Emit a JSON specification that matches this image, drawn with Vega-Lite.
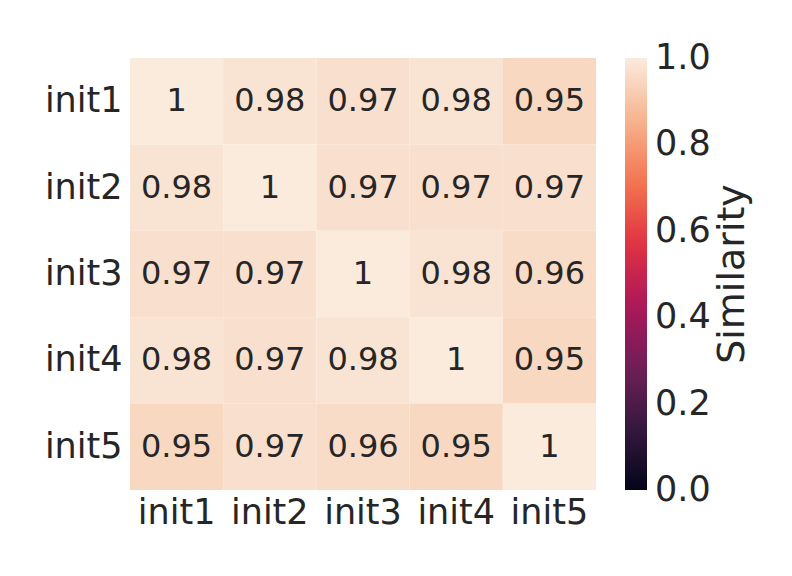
{
  "$schema": "https://vega.github.io/schema/vega-lite/v6.json",
  "width": 466,
  "height": 432,
  "padding": {"left": 44, "top": 58, "right": 5, "bottom": 5},
  "background": "white",
  "config": {
    "font": "DejaVu Sans",
    "view": {"stroke": null},
    "axis": {"domain": false, "ticks": false, "grid": false, "labelColor": "#262626", "labelFont": "DejaVu Sans", "labelFontSize": 35}
  },
  "data": {
    "values": [
      {"row": "init1", "col": "init1", "v": 1.0},
      {"row": "init1", "col": "init2", "v": 0.98},
      {"row": "init1", "col": "init3", "v": 0.97},
      {"row": "init1", "col": "init4", "v": 0.98},
      {"row": "init1", "col": "init5", "v": 0.95},
      {"row": "init2", "col": "init1", "v": 0.98},
      {"row": "init2", "col": "init2", "v": 1.0},
      {"row": "init2", "col": "init3", "v": 0.97},
      {"row": "init2", "col": "init4", "v": 0.97},
      {"row": "init2", "col": "init5", "v": 0.97},
      {"row": "init3", "col": "init1", "v": 0.97},
      {"row": "init3", "col": "init2", "v": 0.97},
      {"row": "init3", "col": "init3", "v": 1.0},
      {"row": "init3", "col": "init4", "v": 0.98},
      {"row": "init3", "col": "init5", "v": 0.96},
      {"row": "init4", "col": "init1", "v": 0.98},
      {"row": "init4", "col": "init2", "v": 0.97},
      {"row": "init4", "col": "init3", "v": 0.98},
      {"row": "init4", "col": "init4", "v": 1.0},
      {"row": "init4", "col": "init5", "v": 0.95},
      {"row": "init5", "col": "init1", "v": 0.95},
      {"row": "init5", "col": "init2", "v": 0.97},
      {"row": "init5", "col": "init3", "v": 0.96},
      {"row": "init5", "col": "init4", "v": 0.95},
      {"row": "init5", "col": "init5", "v": 1.0}
    ]
  },
  "encoding": {
    "x": {"field": "col", "type": "nominal", "title": null, "sort": ["init1","init2","init3","init4","init5"],
          "scale": {"paddingInner": 0, "paddingOuter": 0},
          "axis": {"labelAngle": 0, "labelPadding": 5}},
    "y": {"field": "row", "type": "nominal", "title": null, "sort": ["init1","init2","init3","init4","init5"],
          "scale": {"paddingInner": 0, "paddingOuter": 0},
          "axis": {"labelPadding": 8}}
  },
  "layer": [
    {
      "mark": {"type": "rect"},
      "encoding": {
        "color": {
          "field": "v", "type": "quantitative", "title": "Similarity",
          "scale": {
            "domain": [0, 0.142857, 0.285714, 0.428571, 0.571429, 0.714286, 0.857143, 1.0],
            "range": ["#03051a", "#35193e", "#701f57", "#ad1759", "#e13342", "#f37651", "#f6b48f", "#faebdd"],
            "interpolate": "rgb"
          },
          "legend": {
            "values": [0, 0.2, 0.4, 0.6, 0.8, 1.0],
            "format": ".1f",
            "direction": "vertical",
            "gradientLength": 432,
            "gradientThickness": 22,
            "offset": 29,
            "padding": 0,
            "labelFontSize": 35,
            "labelColor": "#262626",
            "labelOffset": 8,
            "titleOrient": "right",
            "titleAnchor": "middle",
            "titleFontSize": 38,
            "titleFontWeight": "normal",
            "titleColor": "#262626",
            "titlePadding": 3,
            "encode": {
              "labels": {"update": {"baseline": {"value": "middle"}}},
              "title": {"update": {"angle": {"value": 270}, "baseline": {"value": "top"}}}
            }
          }
        }
      }
    },
    {
      "mark": {"type": "text", "fontSize": 32, "color": "#262626", "baseline": "middle", "align": "center"},
      "encoding": {
        "text": {"field": "v", "type": "quantitative", "format": ".2~g"}
      }
    }
  ]
}
